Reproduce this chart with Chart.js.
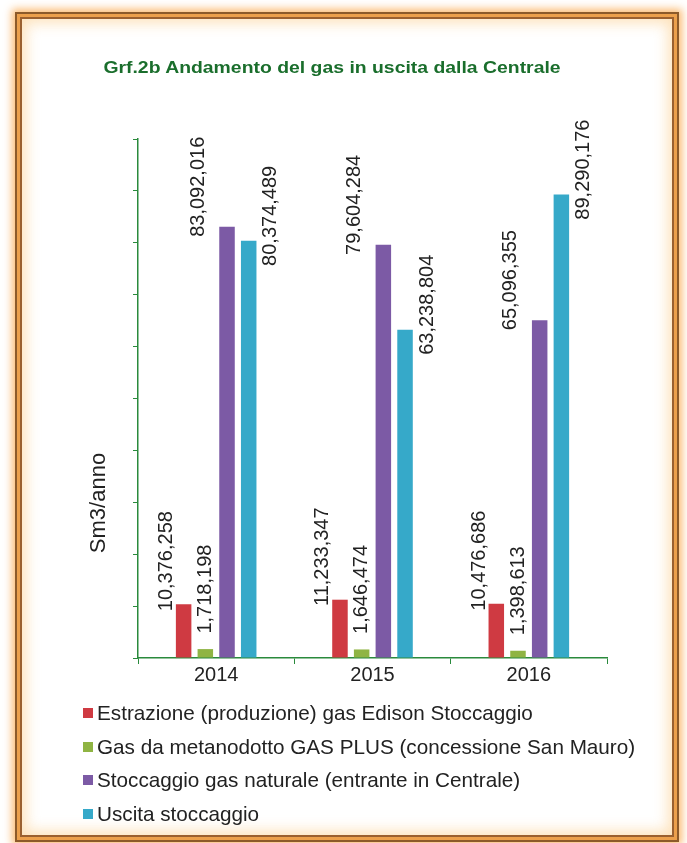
<!DOCTYPE html>
<html>
<head>
<meta charset="utf-8">
<script src="https://cdn.jsdelivr.net/npm/chart.js@4.4.0/dist/chart.umd.min.js"></script>
<style>
  body { margin: 0; background: #fff; width: 687px; height: 843px; overflow: hidden; position: relative; font-family: "Liberation Sans", Arial, sans-serif; }
  .frame {
    position: absolute; left: 15px; top: 12px; width: 660px; height: 826px;
    border: 2px solid #8c5a2a;
    box-shadow: 0 0 8px 3px rgba(250,170,80,0.8),
                inset 0 0 0 3px #eca04c,
                inset 0 0 0 5px #9a6030,
                inset 0 0 14px 9px rgba(252,210,150,0.65);
    background: #fff;
  }
  #chart { position: absolute; left: 0; top: 0; }
  .title { position: absolute; left: 0; width: 664px; top: 56px; text-align: center;
    font: bold 19.4px "Liberation Sans", Arial, sans-serif; color: #1a6e2c; line-height: 22px;
    transform: scaleY(0.85); }
  #legend { position: absolute; left: 83px; top: 696px; }
  .item { height: 33.7px; display: flex; align-items: center; font-size: 20.7px; color: #222; }
  .box { width: 10px; height: 10px; margin-right: 4px; }
</style>
</head>
<body>
<div class="frame"></div>
<canvas id="chart" width="687" height="700"></canvas>
<div class="title">Grf.2b Andamento del gas in uscita dalla Centrale</div>
<div id="legend"></div>
<script>
var years = ['2014', '2015', '2016'];
var seriesNames = [
    'Estrazione (produzione) gas Edison Stoccaggio',
    'Gas da metanodotto GAS PLUS (concessione San Mauro)',
    'Stoccaggio gas naturale (entrante in Centrale)',
    'Uscita stoccaggio'
];
var estrazione = [10376258, 11233347, 10476686];
var gasPlus = [1718198, 1646474, 1398613];
var stoccaggio = [83092016, 79604284, 65096355];
var uscita = [80374489, 63238804, 89290176];
var yTitle = 'Sm3/anno';

var colors = ['#cf3a42', '#8fb443', '#7c5aa5', '#36a9c9'];
// label placement like the original: shift sideways, centre above bar top
var labelDx = [-17, 0, -29, 22];
var labelDy = [-43, -60, -40, -25];

var green = '#2a8a3c';
var font = '"Liberation Sans", Arial, sans-serif';

var barLabels = {
    id: 'barLabels',
    afterDatasetsDraw: function(chart) {
        var ctx = chart.ctx;
        var area = chart.chartArea;
        ctx.save();
        ctx.font = '20px ' + font;
        ctx.fillStyle = '#222';
        ctx.textAlign = 'center';
        ctx.textBaseline = 'middle';
        chart.data.datasets.forEach(function(ds, i) {
            chart.getDatasetMeta(i).data.forEach(function(bar, j) {
                ctx.save();
                ctx.translate(bar.x + labelDx[i], bar.y + labelDy[i]);
                ctx.rotate(-Math.PI / 2);
                ctx.fillText(ds.data[j].toLocaleString('en-US'), 0, 0);
                ctx.restore();
            });
        });
        // axis title sits low on the axis in the original
        ctx.font = '22px ' + font;
        ctx.translate(area.left - 39, area.bottom - 155);
        ctx.rotate(-Math.PI / 2);
        ctx.fillText(yTitle, 0, 0);
        ctx.restore();
    }
};

var allSeries = [estrazione, gasPlus, stoccaggio, uscita];
var ctx = document.getElementById('chart').getContext('2d');
var chart = new Chart(ctx, {
    type: 'bar',
    data: {
        labels: years,
        datasets: allSeries.map(function(s, i) {
            return {
                label: seriesNames[i],
                data: s,
                backgroundColor: colors[i],
                borderWidth: 0,
                categoryPercentage: 0.555,
                barPercentage: 0.715
            };
        })
    },
    options: {
        responsive: false,
        animation: false,
        devicePixelRatio: 1,
        layout: { padding: { left: 78, right: 80, top: 139, bottom: 12 } },
        plugins: {
            legend: { display: false },
            title: { display: false },
            tooltip: { enabled: false }
        },
        scales: {
            x: {
                afterFit: function(scale) { scale.height = 30; },
                grid: { display: true, drawOnChartArea: false, drawTicks: true, tickLength: 6, color: green, offset: true },
                border: { color: green, width: 1.5 },
                ticks: { color: '#222', font: { size: 20, family: font }, padding: -1 }
            },
            y: {
                min: 0,
                max: 100000000,
                afterFit: function(scale) { scale.width = 60; },
                grid: { display: true, drawOnChartArea: false, drawTicks: true, tickLength: 5, color: green },
                border: { color: green, width: 1.5 },
                ticks: { display: false, stepSize: 10000000 }
            }
        }
    },
    plugins: [barLabels]
});

var legend = document.getElementById('legend');
chart.data.datasets.forEach(function(ds) {
    var row = document.createElement('div');
    row.className = 'item';
    var box = document.createElement('span');
    box.className = 'box';
    box.style.background = ds.backgroundColor;
    row.appendChild(box);
    row.appendChild(document.createTextNode(ds.label));
    legend.appendChild(row);
});
</script>
</body>
</html>
